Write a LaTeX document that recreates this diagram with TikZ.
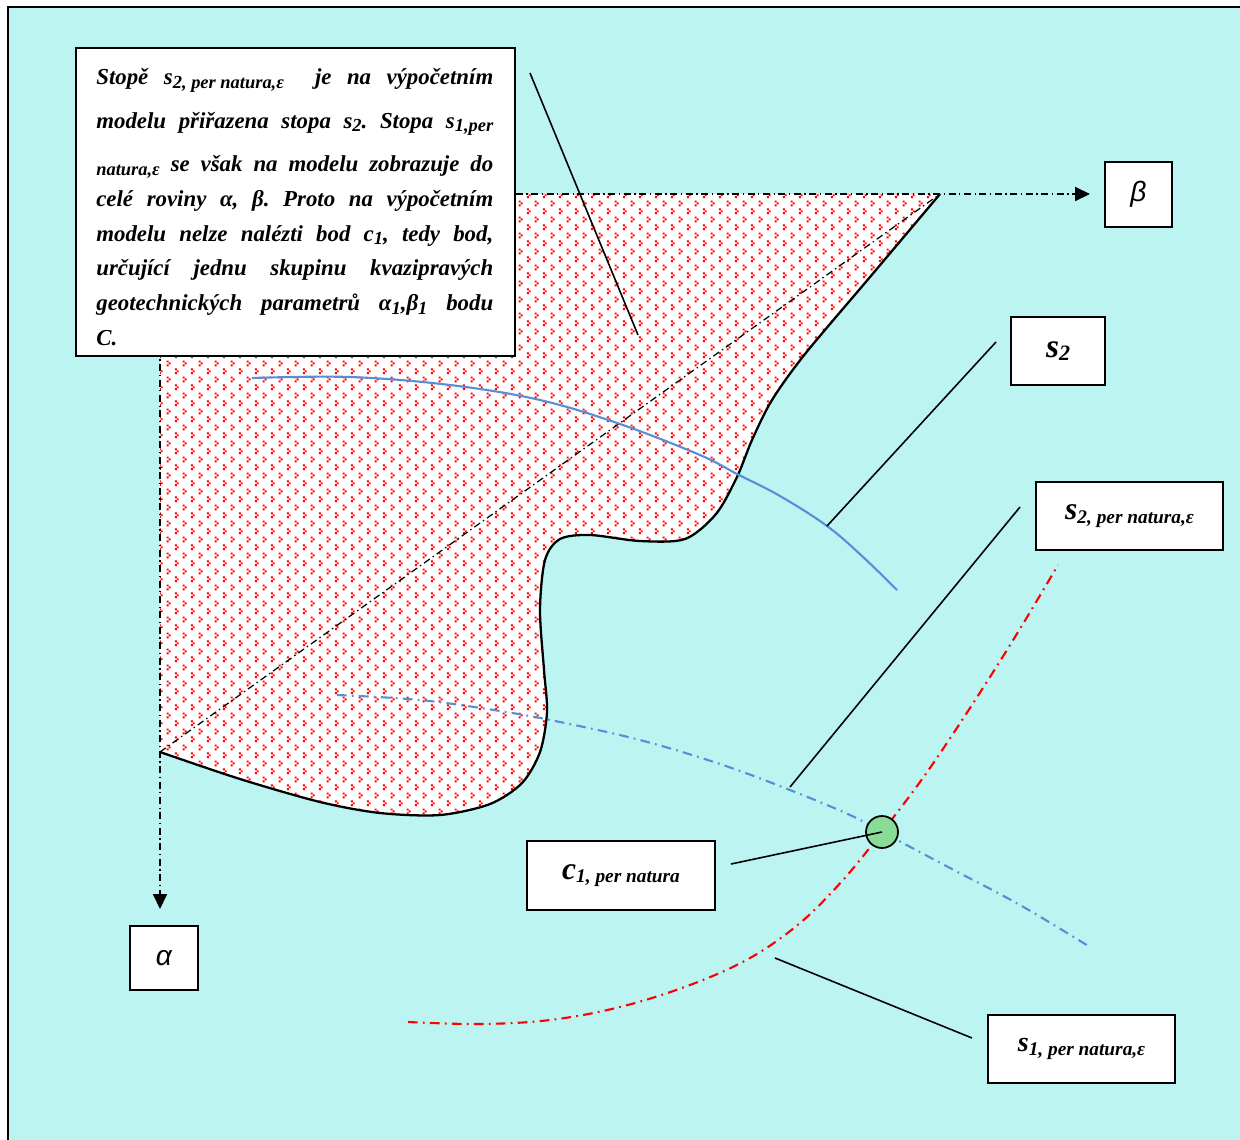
\documentclass[tikz,border=0pt]{standalone}
\usepackage{fontspec}
\setmainfont{Liberation Serif}
\newfontfamily\greeksans{Liberation Sans}
\usetikzlibrary{arrows.meta,patterns.meta}

\definecolor{sea}{RGB}{188,244,242}
\definecolor{curveblue}{RGB}{88,142,214}
\definecolor{pointgreen}{RGB}{136,220,152}

% small red speckles filling the model domain
\tikzdeclarepattern{
  name=speckle,
  type=uncolored,
  bounding box={(0pt,0pt) and (9pt,9pt)},
  tile size={(9pt,9pt)},
  code={
    \fill (0.5pt,0.5pt) rectangle ++(1.1pt,1.1pt);
    \fill (1.6pt,1.6pt) rectangle ++(1.1pt,1.1pt);
    \fill (0.5pt,2.7pt) rectangle ++(1.1pt,1.1pt);
    \fill (5.0pt,5.0pt) rectangle ++(1.1pt,1.1pt);
    \fill (6.1pt,6.1pt) rectangle ++(1.1pt,1.1pt);
    \fill (5.0pt,7.2pt) rectangle ++(1.1pt,1.1pt);
  }
}

% subscripts in the running text and in the labels
\newcommand\lsub[1]{\raisebox{-0.35ex}{\fontsize{10.5}{12}\selectfont #1}}
\newcommand\bsub[1]{\raisebox{-0.45ex}{\fontsize{11}{12}\selectfont\bfseries\itshape #1}}

\tikzset{
  labelbox/.style={draw=black, line width=1.1pt, fill=white, inner sep=0pt, align=center},
  axisline/.style={line width=0.8pt, dash pattern=on 4pt off 2pt on 0.8pt off 2pt},
  tip/.style={-{Triangle[length=8.5pt,width=8pt]}},
  leader/.style={line width=0.9pt},
  rim/.style={line width=1.3pt, line join=round},
  trace/.style={line width=1.2pt},
  tracedash/.style={line width=1.2pt, dash pattern=on 5.5pt off 3pt on 1pt off 3pt},
}

\begin{document}
\begin{tikzpicture}[x=0.02cm, y=-0.02cm]
\useasboundingbox (0,0) rectangle (1240,1139);
\clip (0,0) rectangle (1240,1139);

% sheet and frame
\fill[white] (0,0) rectangle (1240,1139);
\filldraw[fill=sea, draw=black, line width=1.6pt] (8,7) rectangle (1260,1160);

% model domain in the plane alpha, beta
\path[preaction={fill=white}, pattern={speckle}, pattern color=red]
  (160,194) -- (940,194) -- plot[smooth, tension=0.5] coordinates {
  (940,194) (870,277) (805,354) (772,400) (752,440) (737,477) (716,514)
  (685,539) (640,541) (590,535) (560,539) (545,560) (540,610) (544,670)
  (547,712) (540,752) (522,783) (490,804) (440,815) (380,813) (320,802)
  (240,779) (160,752)} -- cycle;
\draw[rim] plot[smooth, tension=0.5] coordinates {
  (940,194) (870,277) (805,354) (772,400) (752,440) (737,477) (716,514)
  (685,539) (640,541) (590,535) (560,539) (545,560) (540,610) (544,670)
  (547,712) (540,752) (522,783) (490,804) (440,815) (380,813) (320,802)
  (240,779) (160,752)};

% label boxes
\node[labelbox, minimum width=1.34cm, minimum height=1.30cm] (betabox) at (1138.5,194.5)
  {\greeksans\itshape\fontsize{16}{16}\selectfont β};
\node[labelbox, minimum width=1.36cm, minimum height=1.28cm] (alphabox) at (164,958)
  {\greeksans\itshape\fontsize{16}{16}\selectfont α};
\node[labelbox, minimum width=1.88cm, minimum height=1.36cm] (s2box) at (1058,351)
  {{\fontsize{19}{19}\selectfont\bfseries\itshape s}\raisebox{-0.45ex}{\fontsize{12.5}{13}\selectfont\bfseries\itshape 2}};
\node[labelbox, minimum width=3.74cm, minimum height=1.36cm] (s2nbox) at (1129.5,516)
  {{\fontsize{18}{18}\selectfont\bfseries\itshape s}\bsub{2, per natura,ε}};
\node[labelbox, minimum width=3.76cm, minimum height=1.38cm] (c1box) at (621,875.5)
  {{\fontsize{18}{18}\selectfont\bfseries\itshape c}\bsub{1, per natura}};
\node[labelbox, minimum width=3.74cm, minimum height=1.36cm] (s1box) at (1081.5,1049)
  {{\fontsize{16}{16}\selectfont\bfseries\itshape s}\bsub{1, per natura,ε}};

% axes of the plane
\coordinate (orig) at (160,194);
\coordinate (corner) at (160,752);
\coordinate (far) at (940,194);
\coordinate (betatip) at (1090,194);
\coordinate (alphatip) at (160,909);
\draw[axisline, tip] (orig) -- (betatip);
\draw[axisline, tip] (orig) -- (alphatip);
\draw[axisline, line width=0.7pt] (corner) -- (far);

% traces
\draw[trace, curveblue] plot[smooth, tension=0.6] coordinates {
  (252,378) (350,377) (450,385) (540,400) (620,424) (700,455) (737,474)
  (780,496) (827,526) (862,556) (897,590)};
\draw[tracedash, curveblue] plot[smooth, tension=0.6] coordinates {
  (337,695) (420,700) (500,711) (560,722) (640,740) (720,764) (790,790)
  (850,815) (882,832) (950,868) (1020,905) (1090,947)};
\draw[tracedash, red] plot[smooth, tension=0.6] coordinates {
  (408,1022) (480,1024) (550,1020) (620,1007) (690,985) (750,958)
  (800,923) (843,880) (882,832) (925,775) (970,708) (1015,637) (1058,565)};

% the point c1 where the traces cross
\node[circle, draw=black, line width=1pt, fill=pointgreen, minimum size=0.64cm, inner sep=0pt] (cpoint) at (882,832) {};

% leaders
\coordinate (noteend) at (530,73);
\coordinate (notehit) at (638,335);
\coordinate (s2from) at (996,342);
\coordinate (s2hit) at (827,526);
\coordinate (s2nfrom) at (1020,507);
\coordinate (s2nhit) at (790,787);
\coordinate (c1from) at (731,864);
\coordinate (s1from) at (972,1038);
\coordinate (s1hit) at (775,958);
\draw[leader] (noteend) -- (notehit);
\draw[leader] (s2from) -- (s2hit);
\draw[leader] (s2nfrom) -- (s2nhit);
\draw[leader] (c1from) -- (cpoint.center);
\draw[leader] (s1from) -- (s1hit);

% explanatory note
\node[labelbox, minimum width=8.78cm, minimum height=6.16cm] (notebox) at (295.5,202) {};
\node[anchor=north west, inner sep=0pt, text width=7.94cm, align=justify,
      font=\fontsize{13}{19.8}\selectfont\bfseries\itshape\frenchspacing] (note) at (96,68) {%
Stopě s\lsub{2, per natura,ε}~ je na výpočetním\vadjust{\vskip5pt}\linebreak
modelu přiřazena stopa s\lsub{2}. Stopa s\lsub{1,per}\vadjust{\vskip5pt}\linebreak
\lsub{natura,ε} se však na modelu zobrazuje do\linebreak
celé roviny α, β. Proto na výpočetním\linebreak
modelu nelze nalézti bod c\lsub{1}, tedy bod,\linebreak
určující jednu skupinu kvazipravých\linebreak
geotechnických parametrů α\lsub{1},β\lsub{1} bodu\linebreak
C.};
\end{tikzpicture}
\end{document}
